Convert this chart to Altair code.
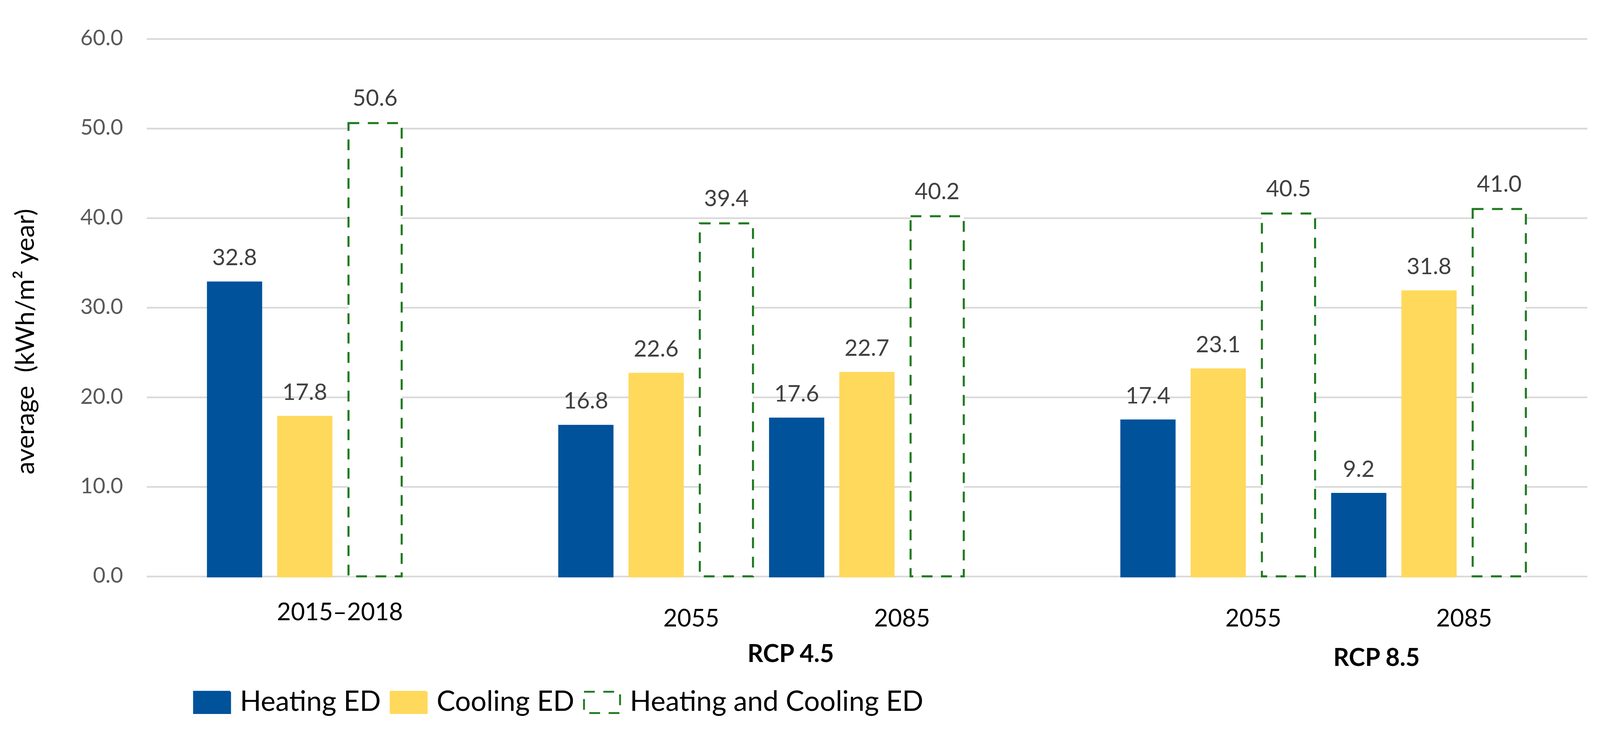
import altair as alt
import pandas as pd

# ---- data ----
periods = ["2015–2018", "2055", "2085", "2055", "2085"]
scenarios = ["", "RCP 4.5", "RCP 4.5", "RCP 8.5", "RCP 8.5"]
series = ["Heating ED", "Cooling ED", "Heating and Cooling ED"]
heating = [32.8, 16.8, 17.6, 17.4, 9.2]
cooling = [17.8, 22.6, 22.7, 23.1, 31.8]
total = [50.6, 39.4, 40.2, 40.5, 41.0]
y_ticks = [0, 10, 20, 30, 40, 50, 60]

BLUE = "#00529B"
YELLOW = "#FFD95C"
GREEN = "#1F7A1F"
FONT = "Lato"

# ---- slot layout (one band per bar, two empty bands between scenario blocks) ----
slot_domain = []
rows = []
group_rows = []
for i, (p, sc) in enumerate(zip(periods, scenarios)):
    if i > 0 and sc != scenarios[i - 1]:
        slot_domain += [f"gap{i}a", f"gap{i}b"]
    vals = [heating[i], cooling[i], total[i]]
    for s, v in zip(series, vals):
        key = f"G{i}:{s}"
        slot_domain.append(key)
        rows.append({"slot": key, "series": s, "value": v})
    group_rows.append({"slot": f"G{i}:{series[1]}", "period": p, "scenario": sc,
                       "first": f"G{i}:{series[0]}"})

df = pd.DataFrame(rows)
gdf = pd.DataFrame(group_rows)

W, H = 3875, 1446
STEP = 189

xscale = alt.Scale(domain=slot_domain, paddingInner=0.243, paddingOuter=0.873)
x = alt.X("slot:N", scale=xscale, axis=None)

legend = alt.Legend(
    orient="none", legendX=125, legendY=1734, direction="horizontal", title=None,
    symbolType="M-1,-0.59H1V0.59H-1Z", symbolSize=9409, symbolStrokeWidth=5,
    labelFont=FONT, labelFontSize=75, labelColor="black", labelOffset=24,
    columnPadding=15, labelLimit=3000, padding=0,
)

bars = alt.Chart(df).mark_bar(strokeWidth=5.5).encode(
    x=x,
    y=alt.Y(
        "value:Q",
        scale=alt.Scale(domain=[0, 60], nice=False),
        axis=alt.Axis(
            values=y_ticks, format=".1f", title="average\u00a0 (kWh/m² year)",
            grid=True, gridColor="#D9D9D9", gridWidth=4.5,
            domain=False, ticks=False,
            labelFont=FONT, labelFontSize=58, labelColor="#595959", labelPadding=64,
            titleFont=FONT, titleFontSize=70, titleFontWeight="normal", titleColor="black",
            titleAngle=-90, titleX=-325, titleY=814, titleAlign="center", titleBaseline="middle",
        ),
    ),
    fill=alt.Fill("series:N", scale=alt.Scale(domain=series, range=[BLUE, YELLOW, "white"]), legend=legend),
    stroke=alt.Stroke("series:N", scale=alt.Scale(domain=series, range=[BLUE, YELLOW, GREEN]), legend=legend),
    strokeDash=alt.StrokeDash("series:N", scale=alt.Scale(domain=series, range=[[1, 0], [1, 0], [29, 23]]), legend=legend),
)

bar_labels = alt.Chart(df).mark_text(
    baseline="alphabetic", dy=-46, font=FONT, fontSize=61, color="#404040"
).encode(x=x, y=alt.Y("value:Q"), text=alt.Text("value:Q", format=".1f"))

period_main = alt.Chart(gdf[gdf["scenario"] == ""]).mark_text(
    baseline="middle", align="center", dx=STEP / 2, font=FONT, fontSize=65, color="black"
).encode(x=x, y=alt.value(1544), text="period:N")

period_scen = alt.Chart(gdf[gdf["scenario"] != ""]).mark_text(
    baseline="middle", align="center", dx=STEP / 2, font=FONT, fontSize=65, color="black"
).encode(x=x, y=alt.value(1561), text="period:N")

layers = [bars, bar_labels, period_main, period_scen]

# scenario labels, anchored at the first bar of the last group of each scenario
scen_dx = {"RCP 4.5": -16, "RCP 8.5": 48}
scen_dy = {"RCP 4.5": 1657, "RCP 8.5": 1667}
for sc in [s for s in dict.fromkeys(scenarios) if s]:
    last = gdf[gdf["scenario"] == sc].iloc[[-1]][["first", "scenario"]].rename(columns={"first": "slot"})
    layers.append(
        alt.Chart(last).mark_text(
            baseline="middle", align="center", dx=scen_dx[sc], font=FONT, fontSize=66,
            fontWeight="bold", color="black"
        ).encode(x=x, y=alt.value(scen_dy[sc]), text="scenario:N")
    )

chart = alt.layer(*layers).properties(
    width=W, height=H,
    autosize=alt.AutoSizeParams(type="none"),
    padding={"left": 386, "top": 48, "right": 26, "bottom": 400},
    background="white",
).configure_view(stroke=None)

chart.save("out.html", embed_options={"renderer": "svg", "actions": False})
